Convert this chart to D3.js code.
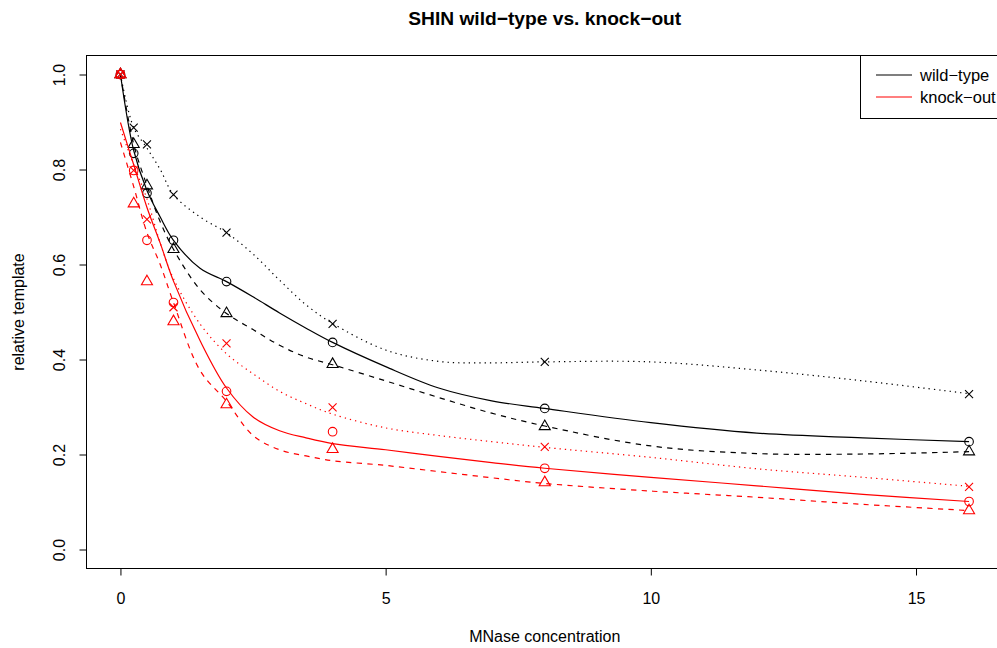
<!DOCTYPE html>
<html>
<head>
<meta charset="utf-8">
<script src="https://cdn.jsdelivr.net/npm/d3@7"></script>
<style>
  html, body { margin: 0; padding: 0; background: #fff; }
  svg { display: block; font-family: "Liberation Sans", Arial, Helvetica, sans-serif; }
</style>
</head>
<body>
<svg id="chart" width="997" height="648"></svg>
<script>
// ---------------- DATA ----------------
const titleText = "SHIN wild\u2212type vs. knock\u2212out";
const xLabel = "MNase concentration";
const yLabel = "relative template";
const legendLabels = ["wild\u2212type", "knock\u2212out"];
const xTicks = [0, 5, 10, 15];
const yTicks = [0.0, 0.2, 0.4, 0.6, 0.8, 1.0];

// measured points
const conc = [0, 0.25, 0.5, 1, 2, 4, 8, 16];
const wtCircle   = [1.0, 0.834, 0.750, 0.651, 0.564, 0.436, 0.297, 0.227];
const wtTriangle = [1.0, 0.853, 0.766, 0.632, 0.497, 0.390, 0.259, 0.206];
const wtCross    = [1.0, 0.888, 0.853, 0.747, 0.667, 0.475, 0.395, 0.327];
const koCircle   = [1.0, 0.798, 0.651, 0.520, 0.333, 0.248, 0.171, 0.101];
const koTriangle = [1.0, 0.728, 0.564, 0.480, 0.305, 0.211, 0.141, 0.082];
const koCross    = [1.0, 0.798, 0.695, 0.510, 0.434, 0.299, 0.216, 0.132];

// fitted curves
const fitX = [0, 0.25, 0.5, 0.75, 1, 1.5, 2, 2.5, 3, 3.5, 4, 5, 6, 7, 8, 10, 12, 14, 16];
const wtFitSolid  = [1.0, 0.840, 0.756, 0.700, 0.651, 0.592, 0.564, 0.532, 0.498, 0.466, 0.436, 0.385, 0.340, 0.313, 0.297, 0.267, 0.245, 0.235, 0.227];
const wtFitDashed = [1.0, 0.853, 0.766, 0.690, 0.632, 0.547, 0.497, 0.463, 0.430, 0.405, 0.389, 0.355, 0.320, 0.287, 0.260, 0.218, 0.202, 0.201, 0.206];
const wtFitDotted = [1.0, 0.888, 0.845, 0.800, 0.747, 0.700, 0.667, 0.622, 0.567, 0.515, 0.476, 0.420, 0.396, 0.393, 0.395, 0.395, 0.378, 0.355, 0.328];
const koFitSolid  = [0.899, 0.810, 0.720, 0.645, 0.565, 0.440, 0.340, 0.279, 0.250, 0.235, 0.223, 0.210, 0.196, 0.183, 0.171, 0.152, 0.134, 0.116, 0.101];
const koFitDashed = [0.857, 0.764, 0.667, 0.600, 0.520, 0.377, 0.312, 0.240, 0.210, 0.197, 0.187, 0.177, 0.164, 0.151, 0.139, 0.123, 0.110, 0.095, 0.082];
const koFitDotted = [0.885, 0.810, 0.738, 0.645, 0.570, 0.475, 0.412, 0.370, 0.333, 0.307, 0.285, 0.256, 0.240, 0.227, 0.215, 0.194, 0.170, 0.152, 0.133];

const groupColors = ["#000000", "#FF0000"];

// ---------------- LAYOUT ----------------
const svg = d3.select("#chart");
const plot = { left: 86.5, top: 55.5, right: 1003, bottom: 568.5 };

const x = d3.scaleLinear().domain([-0.64, 16.64]).range([plot.left, plot.right]);
const y = d3.scaleLinear().domain([-0.04, 1.04]).range([plot.bottom, plot.top]);

const lw = 1.2;
const dashes = { solid: null, dashed: "5.3,5.3", dotted: "1.3,4" };

function drawFit(vals, color, style) {
  const data = fitX.map((v, i) => [v, vals[i]]);
  const line = d3.line().x(d => x(d[0])).y(d => y(d[1])).curve(d3.curveCatmullRom.alpha(0.5));
  svg.append("path")
    .attr("d", line(data))
    .attr("fill", "none")
    .attr("stroke", color)
    .attr("stroke-width", lw)
    .attr("stroke-dasharray", dashes[style]);
}

function drawPoints(vals, color, shape) {
  const g = svg.append("g").attr("fill", "none").attr("stroke", color).attr("stroke-width", 1.1);
  conc.forEach((c, i) => {
    const px = x(c), py = y(vals[i]);
    if (shape === "circle") {
      g.append("circle").attr("cx", px).attr("cy", py).attr("r", 4.3);
    } else if (shape === "triangle") {
      const r = 4.1;
      const pts = [[px, py - 1.555 * r], [px + 1.347 * r, py + 0.778 * r], [px - 1.347 * r, py + 0.778 * r]];
      g.append("polygon").attr("points", pts.map(p => p.join(",")).join(" "));
    } else {
      const h = 4.0;
      g.append("path").attr("d", `M${px - h},${py - h}L${px + h},${py + h}M${px - h},${py + h}L${px + h},${py - h}`);
    }
  });
}

// black group
drawFit(wtFitSolid, groupColors[0], "solid");
drawFit(wtFitDashed, groupColors[0], "dashed");
drawFit(wtFitDotted, groupColors[0], "dotted");
drawPoints(wtCircle, groupColors[0], "circle");
drawPoints(wtTriangle, groupColors[0], "triangle");
drawPoints(wtCross, groupColors[0], "cross");
// red group
drawFit(koFitSolid, groupColors[1], "solid");
drawFit(koFitDashed, groupColors[1], "dashed");
drawFit(koFitDotted, groupColors[1], "dotted");
drawPoints(koCircle, groupColors[1], "circle");
drawPoints(koTriangle, groupColors[1], "triangle");
drawPoints(koCross, groupColors[1], "cross");

// box
svg.append("rect")
  .attr("x", plot.left).attr("y", plot.top)
  .attr("width", plot.right - plot.left).attr("height", plot.bottom - plot.top)
  .attr("fill", "none").attr("stroke", "#000").attr("stroke-width", 1);

// axes
const xAxis = d3.axisBottom(x).tickValues(xTicks).tickFormat(d3.format("d")).tickSize(7).tickPadding(4).tickSizeOuter(0);
const gx = svg.append("g").attr("transform", `translate(0,${plot.bottom})`).call(xAxis);
gx.select(".domain").remove();
gx.selectAll("line").attr("stroke", "#000").attr("stroke-width", 1);
gx.selectAll("text").attr("font-size", 16).attr("fill", "#000").attr("font-family", "Liberation Sans, Arial, sans-serif")
  .attr("dy", null).attr("y", 35.5);

const yAxis = d3.axisLeft(y).tickValues(yTicks).tickFormat(d3.format(".1f")).tickSize(7).tickSizeOuter(0);
const gy = svg.append("g").attr("transform", `translate(${plot.left},0)`).call(yAxis);
gy.select(".domain").remove();
gy.selectAll("line").attr("stroke", "#000").attr("stroke-width", 1);
gy.selectAll("text").attr("font-size", 16).attr("fill", "#000").attr("font-family", "Liberation Sans, Arial, sans-serif")
  .attr("x", null).attr("dy", null).attr("text-anchor", "middle")
  .attr("transform", "translate(-21.5,0) rotate(-90)");

// titles
svg.append("text").attr("x", (plot.left + plot.right) / 2).attr("y", 25)
  .attr("text-anchor", "middle").attr("font-weight", "bold").attr("font-size", 19.2).text(titleText);
svg.append("text").attr("x", (plot.left + plot.right) / 2).attr("y", 642)
  .attr("text-anchor", "middle").attr("font-size", 16).text(xLabel);
svg.append("text").attr("transform", `translate(24,${(plot.top + plot.bottom) / 2}) rotate(-90)`)
  .attr("text-anchor", "middle").attr("font-size", 16).text(yLabel);

// legend
const leg = svg.append("g");
leg.append("rect").attr("x", 860.5).attr("y", plot.top).attr("width", 160).attr("height", 63)
  .attr("fill", "#fff").attr("stroke", "#000").attr("stroke-width", 1);
legendLabels.forEach((lab, i) => {
  const ly = 75 + i * 22;
  leg.append("line").attr("x1", 876).attr("x2", 912).attr("y1", ly).attr("y2", ly)
    .attr("stroke", groupColors[i]).attr("stroke-width", lw);
  leg.append("text").attr("x", 920).attr("y", ly + 5.5).attr("font-size", 16.5).text(lab);
});
</script>
</body>
</html>
